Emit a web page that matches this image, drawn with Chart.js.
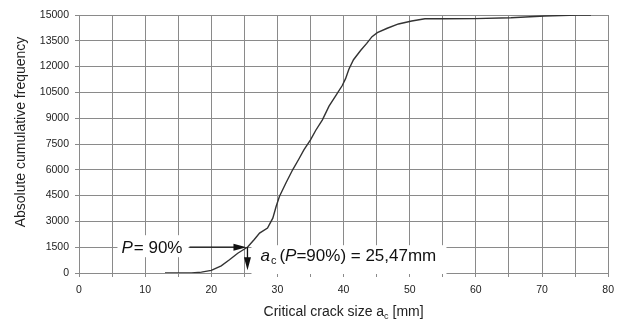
<!DOCTYPE html>
<html>
<head>
<meta charset="utf-8">
<script src="https://cdn.jsdelivr.net/npm/chart.js@4/dist/chart.umd.min.js"></script>
<style>
  body { margin: 0; background: #fff; }
  canvas { display: block; }
</style>
</head>
<body>
<canvas id="chart" width="621" height="322"></canvas>
<script>
// critical crack size a_c [mm] vs absolute cumulative frequency
const crackSize = [13, 17, 18.5, 20, 21.5, 22.75, 24, 25.5, 26.5, 27.3, 28.5, 29.3, 29.8, 30.3, 31.3, 32.3, 33.2, 34, 35, 35.8, 36.8, 37.8, 38.8, 39.8, 40.3, 40.8, 41.5, 42.6, 43.5, 44.3, 45.1, 46.6, 48.3, 50.3, 52.3, 55, 59.8, 65.3, 70.4, 75.4, 77.4];
const cumFreq = [0, 0, 50, 150, 420, 770, 1150, 1510, 1950, 2320, 2610, 3190, 3870, 4450, 5250, 6000, 6600, 7160, 7740, 8300, 8900, 9700, 10300, 10900, 11300, 11850, 12400, 12950, 13350, 13740, 13970, 14230, 14480, 14650, 14780, 14780, 14790, 14840, 14940, 14990, 15000];

const xTicks = [0, 80, 5];        // min, max, step (labels every 10)
const yTicks = [0, 15000, 1500];

// annotation: P = 90% level and resulting a_c
const pLevel = 1500;
const acValue = 25.47;
const arrowFrom = 16.7;

const FONT = "'Liberation Sans', Arial, sans-serif";
const gridColor = "#8a8a8a";

const annotate = {
  id: "annotate",
  afterDatasetsDraw(chart) {
    const ctx = chart.ctx;
    const xs = chart.scales.x, ys = chart.scales.y;
    const ax = xs.getPixelForValue(acValue);
    const ay = ys.getPixelForValue(pLevel);
    const x0 = xs.getPixelForValue(arrowFrom);
    const bottom = ys.getPixelForValue(0);

    ctx.save();
    // white backing boxes
    ctx.fillStyle = "#fff";
    ctx.fillRect(x0 - 72, ay - 12, 71, 22);
    ctx.fillRect(ax + 4, ay - 2, 195, bottom - ay + 3);

    ctx.fillStyle = "#111";
    ctx.textBaseline = "alphabetic";
    // P = 90%
    let tx = x0 - 68;
    let ty = ay + 5.5;
    ctx.font = "italic 17px " + FONT;
    ctx.fillText("P", tx, ty);
    tx += ctx.measureText("P").width + 1;
    ctx.font = "17px " + FONT;
    ctx.fillText("= 90%", tx, ty);

    // a_c (P=90%) = 25,47mm
    tx = ax + 13;
    ty = ay + 14;
    ctx.font = "italic 17px " + FONT;
    ctx.fillText("a", tx, ty);
    tx += ctx.measureText("a").width + 1;
    ctx.font = "11px " + FONT;
    ctx.fillText("c", tx, ty + 3);
    tx += ctx.measureText("c").width + 3;
    ctx.font = "17px " + FONT;
    ctx.fillText("(", tx, ty);
    tx += ctx.measureText("(").width;
    ctx.font = "italic 17px " + FONT;
    ctx.fillText("P", tx, ty);
    tx += ctx.measureText("P").width;
    ctx.font = "17px " + FONT;
    ctx.fillText("=90%) = 25,47mm", tx, ty);

    // arrows
    ctx.strokeStyle = "#111";
    ctx.lineWidth = 1.3;
    ctx.beginPath();
    ctx.moveTo(x0, ay);
    ctx.lineTo(ax - 12, ay);
    ctx.moveTo(ax, ay);
    ctx.lineTo(ax, ay + 12);
    ctx.stroke();
    ctx.beginPath();
    ctx.moveTo(ax - 1, ay);
    ctx.lineTo(ax - 14, ay - 3.5);
    ctx.lineTo(ax - 14, ay + 3.5);
    ctx.closePath();
    ctx.moveTo(ax, ay + 23);
    ctx.lineTo(ax - 3.5, ay + 10);
    ctx.lineTo(ax + 3.5, ay + 10);
    ctx.closePath();
    ctx.fill();

    // axis titles
    const ca = chart.chartArea;
    ctx.fillStyle = "#222";
    ctx.textAlign = "left";
    ctx.textBaseline = "alphabetic";
    const parts = [["Critical crack size a", 14, 0], ["c", 9, 3], [" [mm]", 14, 0]];
    let w = 0;
    parts.forEach(p => { ctx.font = p[1] + "px " + FONT; w += ctx.measureText(p[0]).width; });
    tx = (ca.left + ca.right) / 2 - w / 2;
    parts.forEach(p => {
      ctx.font = p[1] + "px " + FONT;
      ctx.fillText(p[0], tx, 316 + p[2]);
      tx += ctx.measureText(p[0]).width;
    });

    ctx.translate(21, 132);
    ctx.rotate(-Math.PI / 2);
    ctx.textAlign = "center";
    ctx.textBaseline = "middle";
    ctx.font = "14px " + FONT;
    ctx.fillText("Absolute cumulative frequency", 0, 0);
    ctx.restore();
  }
};

new Chart(document.getElementById("chart"), {
  type: "scatter",
  data: {
    datasets: [
      {
        data: crackSize.map((x, i) => ({ x: x, y: cumFreq[i] })),
        showLine: true,
        borderColor: "#333",
        borderWidth: 1.4,
        pointRadius: 0,
        tension: 0
      }
    ]
  },
  options: {
    responsive: false,
    animation: false,
    devicePixelRatio: 1,
    layout: { padding: { top: 15, right: 10, left: 0, bottom: 0 } },
    plugins: { legend: { display: false }, tooltip: { enabled: false } },
    scales: {
      x: {
        type: "linear",
        min: xTicks[0],
        max: xTicks[1],
        afterFit: scale => { scale.height = 49; },
        ticks: {
          stepSize: xTicks[2],
          autoSkip: false,
          maxRotation: 0,
          padding: 7,
          color: "#222",
          font: { family: FONT, size: 10.5 },
          callback: v => (v % 10 === 0 ? String(v) : "")
        },
        grid: { color: gridColor, tickLength: 4, tickColor: gridColor },
        border: { color: gridColor }
      },
      y: {
        min: yTicks[0],
        max: yTicks[1],
        afterFit: scale => { scale.width = 79; },
        ticks: {
          stepSize: yTicks[2],
          padding: 6,
          color: "#222",
          font: { family: FONT, size: 10.5 },
          callback: v => String(v)
        },
        grid: { color: gridColor, tickLength: 4, tickColor: gridColor },
        border: { color: gridColor }
      }
    }
  },
  plugins: [annotate]
});
</script>
</body>
</html>
